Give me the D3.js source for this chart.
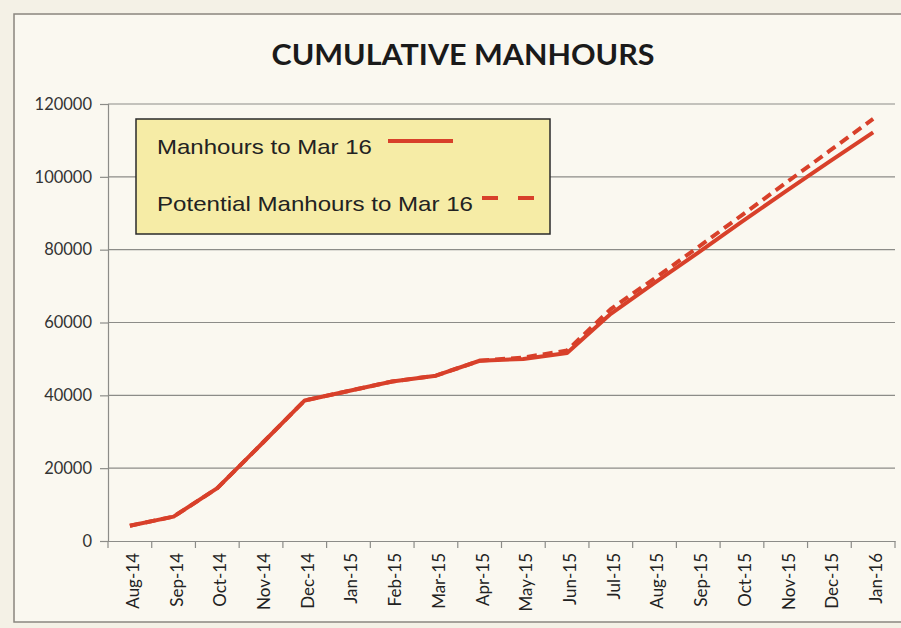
<!DOCTYPE html>
<html>
<head>
<meta charset="utf-8">
<script src="https://cdn.jsdelivr.net/npm/d3@7"></script>
<style>
  body { margin: 0; background: #f4f1e6; }
  svg { display: block; }
</style>
</head>
<body>
<div id="vis"></div>
<script>
const width = 901;
const height = 628;
const margin = { top: 104, right: 6, bottom: 87, left: 108 };

const months = ["Aug-14","Sep-14","Oct-14","Nov-14","Dec-14","Jan-15","Feb-15","Mar-15","Apr-15",
  "May-15","Jun-15","Jul-15","Aug-15","Sep-15","Oct-15","Nov-15","Dec-15","Jan-16"];
const manhours = [4200, 6700, 14500, 26500, 38600, 41200, 43800, 45400, 49500,
  50000, 51600, 62400, 70900, 79200, 87700, 96000, 104200, 112200];
const potential = [4200, 6700, 14500, 26500, 38600, 41200, 43800, 45400, 49500,
  50400, 52300, 63700, 72100, 80700, 89500, 98300, 107100, 115900];
const yTicks = [0, 20000, 40000, 60000, 80000, 100000, 120000];

const innerW = width - margin.left - margin.right;
const innerH = 541 - margin.top;

const svg = d3.select("#vis")
  .append("svg")
  .attr("width", width)
  .attr("height", height)
  .style("background-color", "#f4f1e6");

// outer chart frame
svg.append("rect")
  .attr("x", 15).attr("y", 15)
  .attr("width", 886).attr("height", 607)
  .attr("fill", "#faf8f0");
svg.append("path")
  .attr("d", "M901,622 L14,622 L14,14 L901,14")
  .attr("fill", "none")
  .attr("stroke", "#8a8780")
  .attr("stroke-width", 1.5);

svg.append("text")
  .text("CUMULATIVE MANHOURS")
  .attr("x", 463)
  .attr("y", 65)
  .attr("text-anchor", "middle")
  .attr("font-family", "Lato, 'Open Sans', sans-serif")
  .attr("font-weight", "bold")
  .attr("font-size", 29)
  .attr("textLength", 383)
  .attr("lengthAdjust", "spacingAndGlyphs")
  .attr("fill", "#1a1a1a");

const g = svg.append("g")
  .attr("transform", "translate(" + margin.left + "," + margin.top + ")");

const xScale = d3.scaleBand().domain(months).range([0, innerW]);
const yScale = d3.scaleLinear().domain([0, 120000]).range([innerH, 0]);

// gridlines
g.selectAll(".grid")
  .data(yTicks.filter(d => d > 0))
  .enter()
  .append("line")
  .attr("class", "grid")
  .attr("x1", 0)
  .attr("x2", innerW)
  .attr("y1", d => yScale(d))
  .attr("y2", d => yScale(d))
  .attr("stroke", "#8c8c88")
  .attr("stroke-width", 1.2);

const yAxis = d3.axisLeft(yScale).tickValues(yTicks).tickFormat(d3.format("d")).tickSize(8).tickPadding(8);
const yG = g.append("g").attr("id", "y-axis").call(yAxis);
yG.select(".domain").attr("stroke", "#8c8c88").attr("stroke-width", 1.2);
yG.selectAll(".tick line").attr("stroke", "#8c8c88").attr("stroke-width", 1.2);
yG.selectAll("text")
  .attr("font-family", "Lato, sans-serif")
  .attr("font-size", 16.5)
  .attr("fill", "#333");

const xAxis = d3.axisBottom(xScale).tickSize(0).tickPadding(0);
const xG = g.append("g")
  .attr("id", "x-axis")
  .attr("transform", "translate(0," + innerH + ")")
  .call(xAxis);
xG.select(".domain").attr("stroke", "#8c8c88").attr("stroke-width", 1.2);
xG.selectAll(".tick text")
  .attr("transform", "rotate(-90)")
  .attr("x", -12)
  .attr("y", 3)
  .attr("dy", "0.35em")
  .attr("text-anchor", "end")
  .attr("font-family", "Lato, sans-serif")
  .attr("font-size", 17)
  .attr("fill", "#222");

// band boundary ticks
g.selectAll(".xtick")
  .data(months.concat(["end"]))
  .enter()
  .append("line")
  .attr("class", "xtick")
  .attr("x1", (d, i) => i * xScale.step())
  .attr("x2", (d, i) => i * xScale.step())
  .attr("y1", innerH)
  .attr("y2", innerH + 7)
  .attr("stroke", "#8c8c88")
  .attr("stroke-width", 1.2);

const line = d3.line()
  .x((d, i) => xScale(months[i]) + xScale.bandwidth() / 2)
  .y(d => yScale(d));

g.append("path")
  .datum(potential)
  .attr("d", line)
  .attr("fill", "none")
  .attr("stroke", "#d8402a")
  .attr("stroke-width", 4)
  .attr("stroke-dasharray", "10,6");

g.append("path")
  .datum(manhours)
  .attr("d", line)
  .attr("fill", "none")
  .attr("stroke", "#d8402a")
  .attr("stroke-width", 4)
  .attr("stroke-linejoin", "round");

// legend
const legend = svg.append("g");
legend.append("rect")
  .attr("x", 136).attr("y", 119)
  .attr("width", 414).attr("height", 115)
  .attr("fill", "#f6eca6")
  .attr("stroke", "#2a2a2a")
  .attr("stroke-width", 1.5);

legend.append("text")
  .text("Manhours to Mar 16")
  .attr("x", 157).attr("y", 154)
  .attr("font-family", "'Liberation Sans', Arial, sans-serif")
  .attr("font-size", 21)
  .attr("textLength", 215)
  .attr("lengthAdjust", "spacingAndGlyphs")
  .attr("fill", "#222");
legend.append("line")
  .attr("x1", 388).attr("x2", 453)
  .attr("y1", 141).attr("y2", 141)
  .attr("stroke", "#d8402a").attr("stroke-width", 4);

legend.append("text")
  .text("Potential Manhours to Mar 16")
  .attr("x", 157).attr("y", 211)
  .attr("font-family", "'Liberation Sans', Arial, sans-serif")
  .attr("font-size", 21)
  .attr("textLength", 316)
  .attr("lengthAdjust", "spacingAndGlyphs")
  .attr("fill", "#222");
legend.append("line")
  .attr("x1", 482).attr("x2", 540)
  .attr("y1", 198).attr("y2", 198)
  .attr("stroke", "#d8402a").attr("stroke-width", 4)
  .attr("stroke-dasharray", "16,20");
</script>
</body>
</html>
